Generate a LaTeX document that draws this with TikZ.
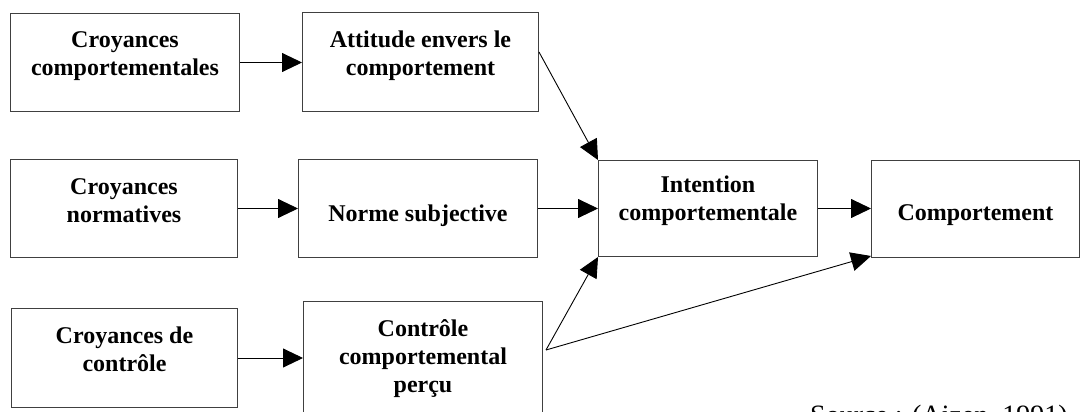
\documentclass[tikz,border=0pt]{standalone}
\usepackage{fontspec}
\setmainfont{Liberation Serif}
\usepackage{tikz}
\usetikzlibrary{positioning,arrows.meta,calc}
\tikzset{bloc/.style={draw=black!75, line width=1pt, align=center, anchor=north west, inner sep=0pt, font=\bfseries\fontsize{24}{28}\selectfont},
fleche/.style={-{Triangle[length=20pt,width=19pt]}, line width=0.9pt}}

\begin{document}
\begin{tikzpicture}[x=1pt,y=-1pt]
\clip (0,0) rectangle (1080,412);
\node[bloc, minimum width=229, minimum height=98, text depth=18.5pt] (a1) at (10,13) {Croyances\\comportementales};
\node[bloc, minimum width=236, minimum height=99, text depth=17.5pt] (a2) at (302,12) {Attitude envers le\\comportement};
\node[bloc, minimum width=227, minimum height=98, text depth=16.5pt] (b1) at (10,159) {Croyances\\normatives};
\node[bloc, minimum width=239, minimum height=98, text height=31pt] (b2) at (298,159) {Norme subjective};
\node[bloc, minimum width=219, minimum height=96, text depth=20.5pt] (int) at (598,160) {Intention\\comportementale};
\node[bloc, minimum width=208, minimum height=97, text height=28pt] (comp) at (871,160) {Comportement};
\node[bloc, minimum width=226, minimum height=99, text depth=17.5pt] (c1) at (11,308) {Croyances de\\contrôle};
\node[bloc, minimum width=239, minimum height=130, text depth=20.5pt] (c2) at (303,301) {Contrôle\\comportemental\\perçu};
\node[anchor=base west, inner sep=0pt, font=\fontsize{28}{32}\selectfont] (source) at (810,424) {Source : (Ajzen, 1991)};

\draw[fleche] (a1.east) -- (a1.east -| a2.west);
\draw[fleche] (b1.east) -- (b1.east -| b2.west);
\draw[fleche] (c1.east) -- (c1.east -| c2.west);
\draw[fleche] (b2.east) -- (b2.east -| int.west);
\draw[fleche] (int.east) -- (int.east -| comp.west);
\draw[fleche] ([yshift=10pt]a2.east) -- (int.north west);
\draw[fleche] ($(c2.north east)+(3,49)$) -- (int.south west);
\draw[fleche] ($(c2.north east)+(3,49)$) -- ([yshift=2pt]comp.south west);
\end{tikzpicture}
\end{document}
